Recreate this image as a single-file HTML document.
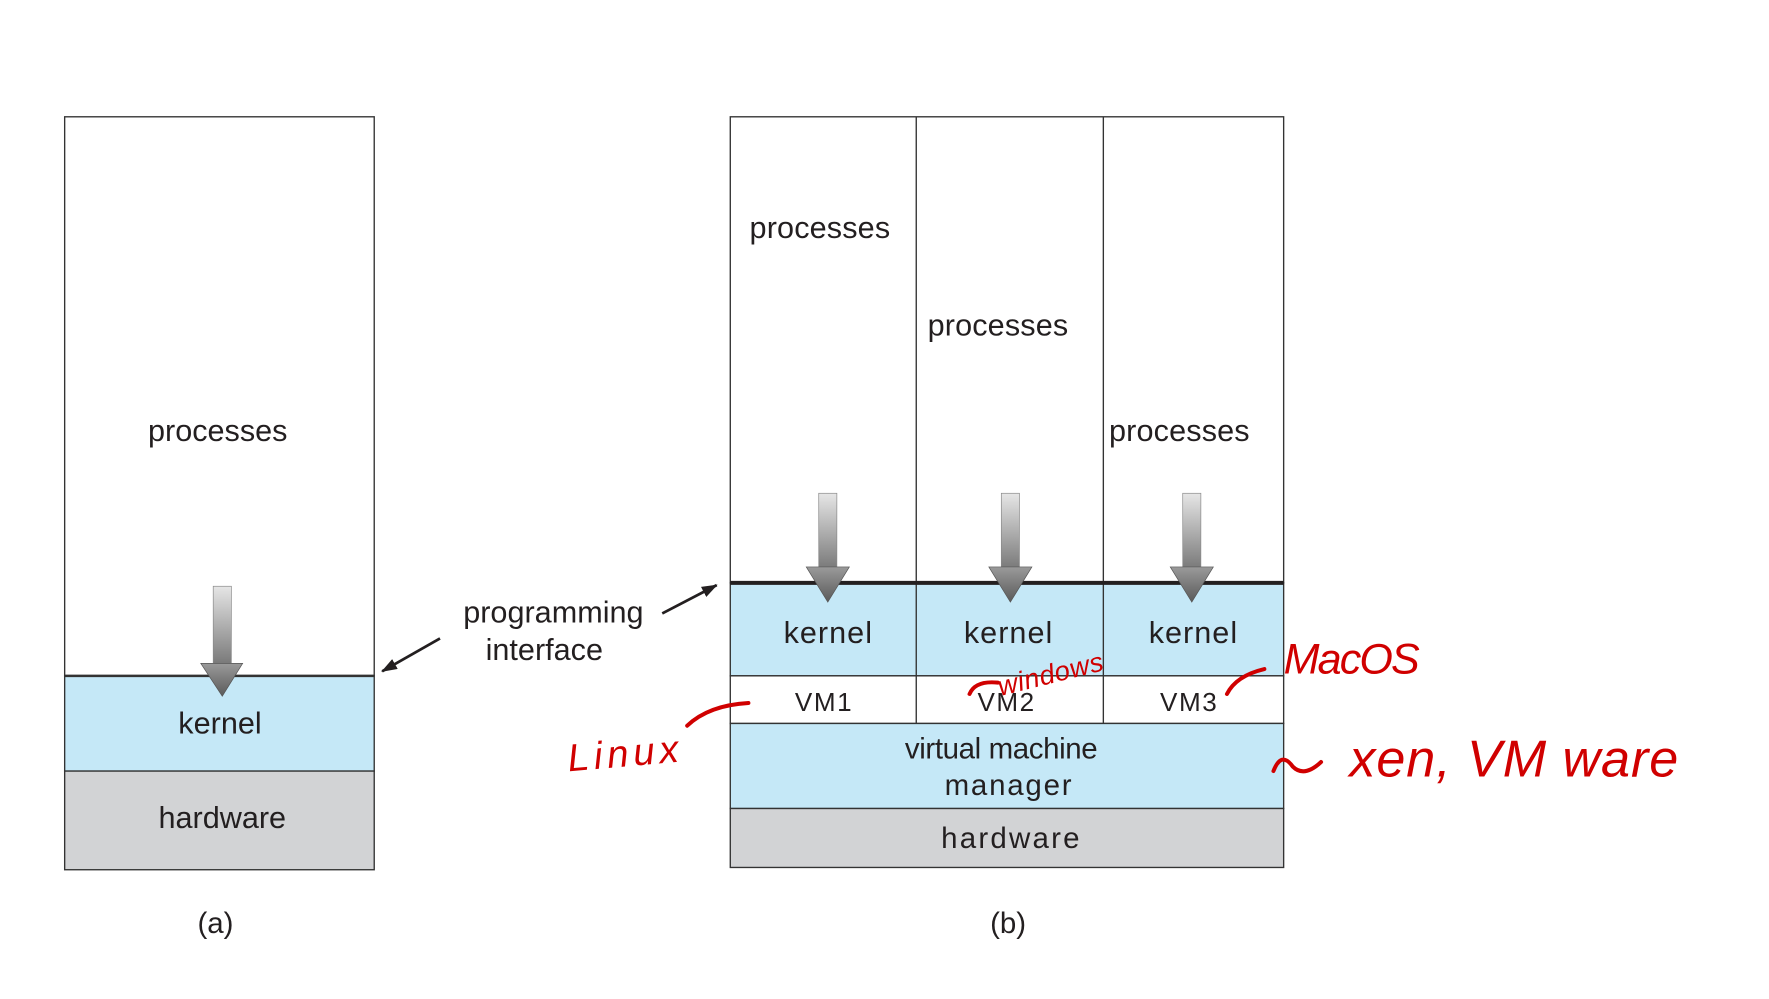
<!DOCTYPE html>
<html><head><meta charset="utf-8"><style>html,body{margin:0;padding:0;background:#fff}svg{display:block}</style></head>
<body>
<svg width="1769" height="999" viewBox="0 0 1560 881" xmlns="http://www.w3.org/2000/svg" font-family="Liberation Sans, sans-serif" fill="#231f20">
<defs>
<linearGradient id="sh" x1="0" y1="0" x2="0" y2="1"><stop offset="0" stop-color="#e6e6e6"/><stop offset="1" stop-color="#7a7a7a"/></linearGradient>
<linearGradient id="hd" x1="0" y1="0" x2="0" y2="1"><stop offset="0" stop-color="#9a9a9a"/><stop offset="1" stop-color="#5a5a5a"/></linearGradient>
<marker id="ah" markerWidth="14" markerHeight="10" refX="13" refY="5" orient="auto" markerUnits="userSpaceOnUse"><path d="M0,0 L14,5 L0,10 z" fill="#231f20"/></marker>
</defs>
<!-- (a) -->
<rect x="57" y="103" width="273" height="493" fill="#fff" stroke="#333" stroke-width="1.2"/>
<rect x="57" y="596" width="273" height="84" fill="#c5e8f7" stroke="#333" stroke-width="1.2"/>
<rect x="57" y="680" width="273" height="87" fill="#d2d3d5" stroke="#333" stroke-width="1.2"/>
<line x1="57" y1="596" x2="330" y2="596" stroke="#333" stroke-width="2.2"/>
<text x="192" y="389" font-size="27" text-anchor="middle">processes</text>
<rect x="188" y="517" width="16" height="68" fill="url(#sh)" stroke="#888" stroke-width="0.6"/>
<path d="M177,585 L214,585 L196,614 z" fill="url(#hd)" stroke="#555" stroke-width="0.6"/>
<text x="194" y="647" font-size="27" text-anchor="middle">kernel</text>
<text x="196" y="730" font-size="27" text-anchor="middle">hardware</text>
<text x="190" y="823" font-size="26" text-anchor="middle">(a)</text>
<!-- programming interface -->
<text x="488" y="549" font-size="27" text-anchor="middle">programming</text>
<text x="480" y="582" font-size="27" text-anchor="middle">interface</text>
<line x1="388" y1="563" x2="337" y2="592" stroke="#231f20" stroke-width="2.4" marker-end="url(#ah)"/>
<line x1="584" y1="541" x2="632" y2="516" stroke="#231f20" stroke-width="2.4" marker-end="url(#ah)"/>
<!-- (b) -->
<rect x="644" y="103" width="488" height="411" fill="#fff" stroke="#333" stroke-width="1.2"/>
<rect x="644" y="514" width="488" height="82" fill="#c5e8f7" stroke="#333" stroke-width="1.2"/>
<rect x="644" y="596" width="488" height="42" fill="#fff" stroke="#333" stroke-width="1.2"/>
<rect x="644" y="638" width="488" height="75" fill="#c5e8f7" stroke="#333" stroke-width="1.2"/>
<rect x="644" y="713" width="488" height="52" fill="#d2d3d5" stroke="#333" stroke-width="1.2"/>
<line x1="808" y1="103" x2="808" y2="638" stroke="#333" stroke-width="1.2"/>
<line x1="973" y1="103" x2="973" y2="638" stroke="#333" stroke-width="1.2"/>
<line x1="644" y1="514" x2="1132" y2="514" stroke="#231f20" stroke-width="3.5"/>
<text x="723" y="210" font-size="27" text-anchor="middle" textLength="124">processes</text>
<text x="880" y="296" font-size="27" text-anchor="middle" textLength="124">processes</text>
<text x="1040" y="389" font-size="27" text-anchor="middle" textLength="124">processes</text>
<g>
<rect x="722" y="435" width="16" height="66" fill="url(#sh)" stroke="#888" stroke-width="0.6"/>
<path d="M711,500 L749,500 L730,531 z" fill="url(#hd)" stroke="#555" stroke-width="0.6"/>
<rect x="883" y="435" width="16" height="66" fill="url(#sh)" stroke="#888" stroke-width="0.6"/>
<path d="M872,500 L910,500 L891,531 z" fill="url(#hd)" stroke="#555" stroke-width="0.6"/>
<rect x="1043" y="435" width="16" height="66" fill="url(#sh)" stroke="#888" stroke-width="0.6"/>
<path d="M1032,500 L1070,500 L1051,531 z" fill="url(#hd)" stroke="#555" stroke-width="0.6"/>
</g>
<text x="730" y="567" font-size="27" text-anchor="middle" textLength="78">kernel</text>
<text x="889" y="567" font-size="27" text-anchor="middle" textLength="78">kernel</text>
<text x="1052" y="567" font-size="27" text-anchor="middle" textLength="78">kernel</text>
<text x="726" y="627" font-size="23" text-anchor="middle" textLength="50">VM1</text>
<text x="887" y="627" font-size="23" text-anchor="middle" textLength="50">VM2</text>
<text x="1048" y="627" font-size="23" text-anchor="middle" textLength="50">VM3</text>
<text x="883" y="669" font-size="26" text-anchor="middle" textLength="170">virtual machine</text>
<text x="889" y="701" font-size="26" text-anchor="middle" textLength="112">manager</text>
<text x="891" y="748" font-size="26" text-anchor="middle" textLength="122">hardware</text>
<text x="889" y="823" font-size="26" text-anchor="middle">(b)</text>
<!-- red annotations -->
<g fill="none" stroke="#d00000" stroke-width="3.5" stroke-linecap="round">
<path d="M606,640 Q625,622 660,620"/>
<path d="M855,612 Q860,600 880,602"/>
<path d="M1082,612 Q1090,596 1115,590"/>
<path d="M1123,680 Q1130,662 1140,676 Q1150,686 1165,672"/>
</g>
<g fill="#d00000" font-style="italic">
<text x="500" y="676" font-size="34" textLength="98" transform="rotate(-5 550 660)">Linux</text>
<text x="878" y="604" font-size="24" textLength="95" transform="rotate(-14 920 592)">windows</text>
<text x="1132" y="594" font-size="38" textLength="120">MacOS</text>
<text x="1190" y="685" font-size="46" textLength="290">xen, VM ware</text>
</g>
</svg>
</body></html>
